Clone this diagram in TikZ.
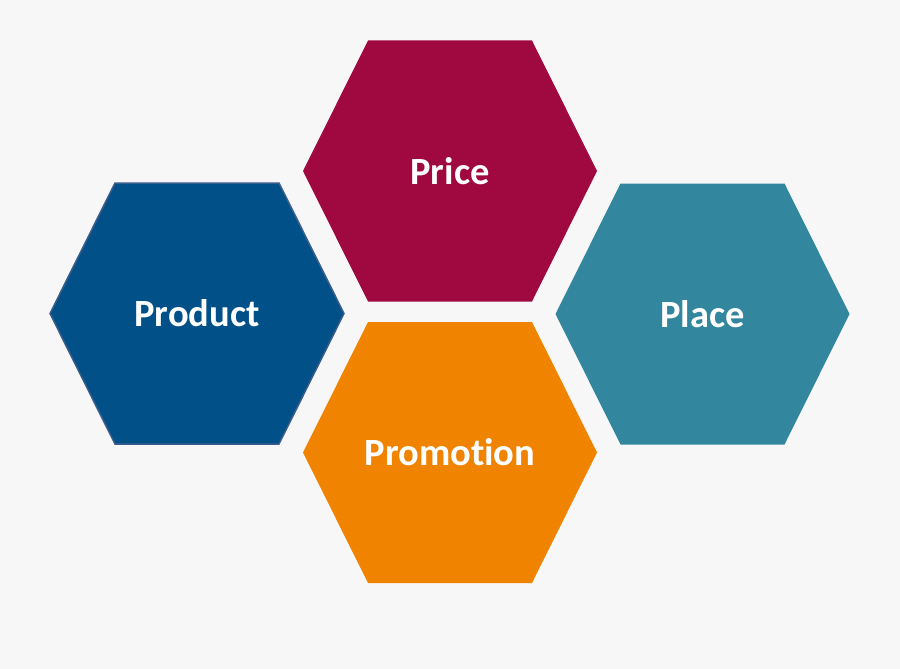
\documentclass[tikz,border=0pt]{standalone}
\usepackage{fontspec}
\setmainfont{Carlito}[Ligatures={NoCommon,NoRare,NoDiscretionary}]
\definecolor{bgc}{RGB}{247,247,247}
\definecolor{pricec}{RGB}{160,9,63}
\definecolor{productc}{RGB}{2,80,136}
\definecolor{productb}{RGB}{58,94,140}
\definecolor{placec}{RGB}{50,134,158}
\definecolor{promoc}{RGB}{240,131,0}
\begin{document}
\begin{tikzpicture}[x=1pt,y=-1pt,
  hexa/.pic={\path[pic actions] (-147,0) -- (-82,-130.5) -- (82,-130.5) -- (147,0) -- (82,130.5) -- (-82,130.5) -- cycle;},
  label4p/.style={text=white,font=\bfseries\fontsize{38.5}{46}\selectfont,anchor=base,inner sep=0pt}]
\fill[bgc] (0,0) rectangle (900,669);
\useasboundingbox (0,0) rectangle (900,669);
\pic[fill=pricec] at (450,171) {hexa};
\pic[fill=productc,draw=productb,line width=1.5pt] at (197,313.5) {hexa};
\pic[fill=placec] at (702.5,314) {hexa};
\pic[fill=promoc] at (450,452.5) {hexa};
\node[label4p] (price) at (450,184) {Price};
\node[label4p] (product) at (197,326.5) {Product};
\node[label4p] (place) at (702.5,327) {Place};
\node[label4p] (promotion) at (450,465.5) {Promotion};
\end{tikzpicture}
\end{document}
